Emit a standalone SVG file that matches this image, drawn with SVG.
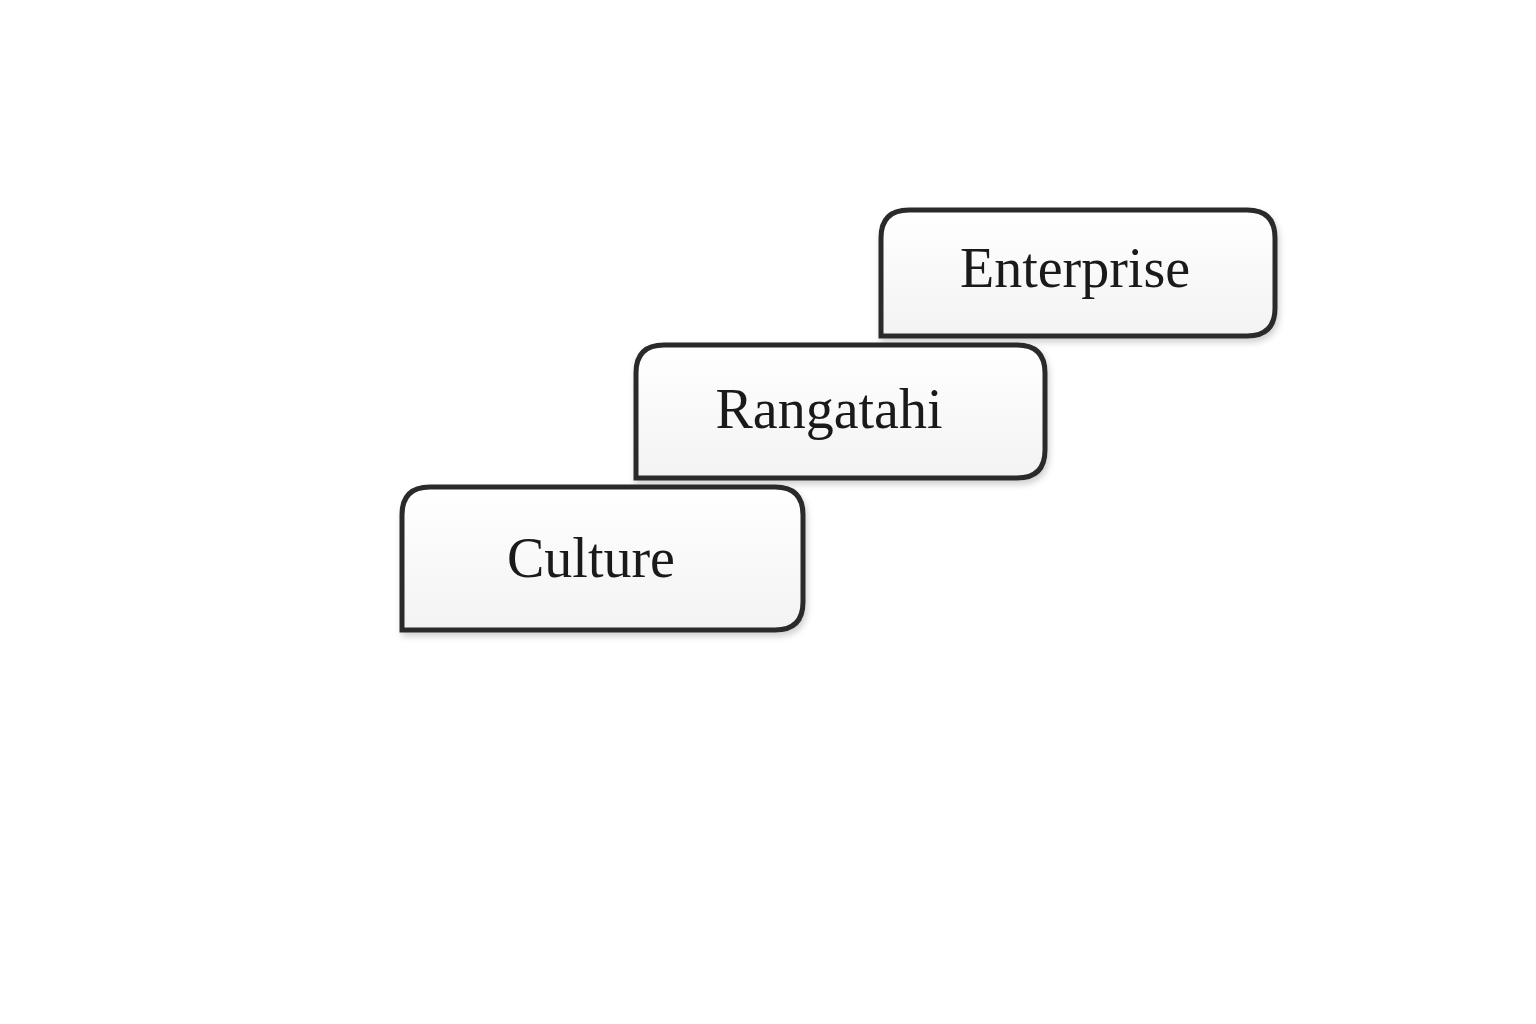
<svg xmlns="http://www.w3.org/2000/svg" width="1536" height="1024" viewBox="0 0 1536 1024">
<defs>
<filter id="sh" x="-10%" y="-10%" width="120%" height="130%"><feDropShadow dx="2" dy="4" stdDeviation="3" flood-color="#000" flood-opacity="0.18"/></filter>
<linearGradient id="g" x1="0" y1="0" x2="0" y2="1"><stop offset="0" stop-color="#ffffff"/><stop offset="1" stop-color="#f3f3f3"/></linearGradient>
</defs>
<style>
.box{fill:url(#g);stroke:#2a2a2a;stroke-width:5;filter:url(#sh)}
.lbl{font-family:"Liberation Serif","Times New Roman",serif;font-size:56px;fill:#1a1a1a;text-anchor:middle}
</style>
<rect width="1536" height="1024" fill="#fff"/>
<g id="connectors"></g>
<g id="enterprise">
<path class="box" d="M881,336 V238 Q881,210 909,210 H1247 Q1275,210 1275,238 V308 Q1275,336 1247,336 Z"/>
<text class="lbl" x="1075" y="287">Enterprise</text>
</g>
<g id="rangatahi">
<path class="box" d="M636,478 V373 Q636,345 664,345 H1017 Q1045,345 1045,373 V450 Q1045,478 1017,478 Z"/>
<text class="lbl" x="829" y="428">Rangatahi</text>
</g>
<g id="culture">
<path class="box" d="M402,630 V515 Q402,487 430,487 H775 Q803,487 803,515 V602 Q803,630 775,630 Z"/>
<text class="lbl" x="591" y="577">Culture</text>
</g>
</svg>
